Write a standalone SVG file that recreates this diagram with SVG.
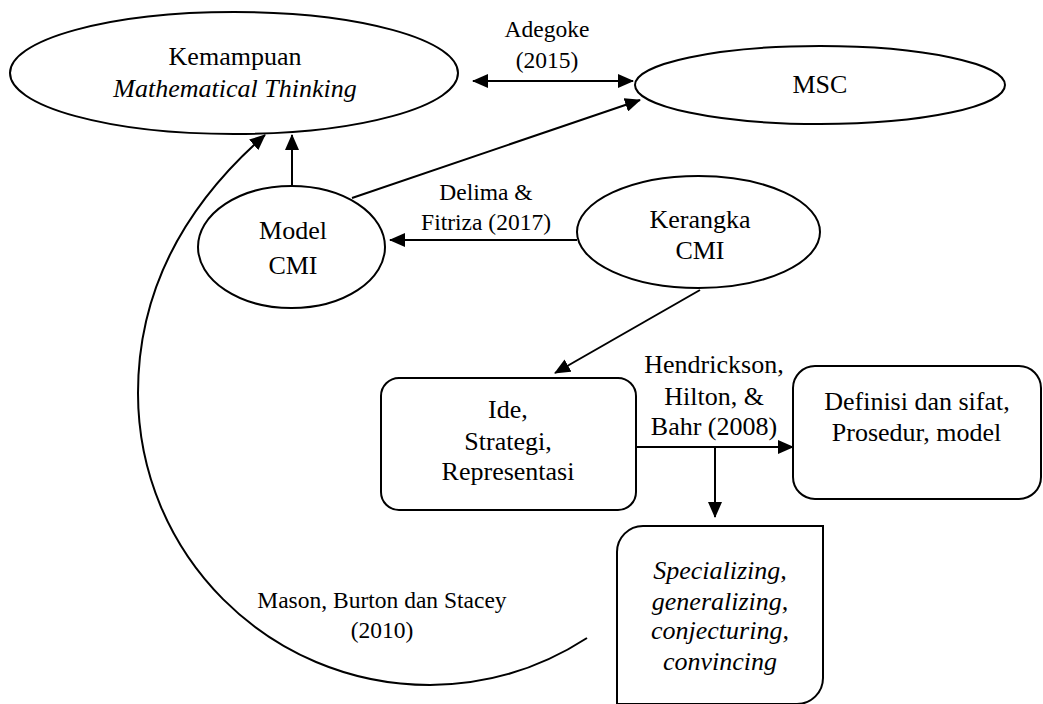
<svg xmlns="http://www.w3.org/2000/svg" width="1043" height="704" viewBox="0 0 1043 704">
<defs>
<marker id="ah" markerUnits="userSpaceOnUse" markerWidth="16" markerHeight="14" viewBox="0 0 16 14" refX="15" refY="7" orient="auto-start-reverse">
<path d="M0,0 L16,7 L0,14 z" fill="#000"/>
</marker>
</defs>
<rect width="1043" height="704" fill="#fff"/>
<g id="connectors" fill="none" stroke="#000" stroke-width="2">
<line x1="473" y1="81" x2="633" y2="81" marker-start="url(#ah)" marker-end="url(#ah)"/>
<line x1="352" y1="198" x2="640" y2="100" marker-end="url(#ah)"/>
<line x1="292" y1="186" x2="292" y2="135" marker-end="url(#ah)"/>
<line x1="577" y1="240" x2="390" y2="240" marker-end="url(#ah)"/>
<line x1="700" y1="290" x2="555" y2="373" marker-end="url(#ah)"/>
<line x1="631" y1="447" x2="793" y2="447" marker-end="url(#ah)"/>
<line x1="715" y1="447" x2="715" y2="517" marker-end="url(#ah)"/>
<path d="M587 638 A292 292 0 0 1 430 685 C268 685 138 554 138 393 C138 290 185 205 265 135" marker-end="url(#ah)"/>
</g>
<g id="labels">
<text x="504.6" y="37" font-size="23.5" font-family="Liberation Serif">Adegoke</text>
<text x="515.7" y="68" font-size="23.5" font-family="Liberation Serif">(2015)</text>
<text x="439.3" y="200" font-size="23.5" font-family="Liberation Serif">Delima &amp;</text>
<text x="421.1" y="230" font-size="23.5" font-family="Liberation Serif">Fitriza (2017)</text>
<text x="257.3" y="608" font-size="23.5" font-family="Liberation Serif">Mason, Burton dan Stacey</text>
<text x="350.7" y="638" font-size="23.5" font-family="Liberation Serif">(2010)</text>
<text x="644.3" y="373" font-size="26" font-family="Liberation Serif">Hendrickson,</text>
<text x="664.2" y="405" font-size="26" font-family="Liberation Serif">Hilton, &amp;</text>
<text x="650.8" y="435" font-size="26" font-family="Liberation Serif">Bahr (2008)</text>
</g>
<g id="kemampuan">
<ellipse cx="234" cy="73" rx="224" ry="61" fill="#fff" stroke="#000" stroke-width="2"/>
<text x="168.6" y="65" font-size="26" font-family="Liberation Serif">Kemampuan</text>
<text x="113.3" y="97" font-size="26" font-style="italic" font-family="Liberation Serif">Mathematical Thinking</text>
</g>
<g id="msc">
<ellipse cx="820" cy="85" rx="185" ry="39" fill="#fff" stroke="#000" stroke-width="2"/>
<text x="792.5" y="93" font-size="26" font-family="Liberation Serif">MSC</text>
</g>
<g id="model-cmi">
<ellipse cx="291.5" cy="247" rx="93.5" ry="61" fill="#fff" stroke="#000" stroke-width="2"/>
<text x="259.1" y="239" font-size="26" font-family="Liberation Serif">Model</text>
<text x="268.4" y="274" font-size="26" font-family="Liberation Serif">CMI</text>
</g>
<g id="kerangka-cmi">
<ellipse cx="698.5" cy="232" rx="121.5" ry="56" fill="#fff" stroke="#000" stroke-width="2"/>
<text x="649.5" y="228" font-size="26" font-family="Liberation Serif">Kerangka</text>
<text x="675.4" y="259" font-size="26" font-family="Liberation Serif">CMI</text>
</g>
<g id="ide">
<rect x="381" y="378" width="255" height="132" rx="18" fill="#fff" stroke="#000" stroke-width="2"/>
<text x="488.1" y="418" font-size="26" font-family="Liberation Serif">Ide,</text>
<text x="464.3" y="450" font-size="26" font-family="Liberation Serif">Strategi,</text>
<text x="441.6" y="480" font-size="26" font-family="Liberation Serif">Representasi</text>
</g>
<g id="definisi">
<rect x="793" y="366" width="248" height="133" rx="22" fill="#fff" stroke="#000" stroke-width="2"/>
<text x="824.2" y="410" font-size="26" font-family="Liberation Serif">Definisi dan sifat,</text>
<text x="831.8" y="441" font-size="26" font-family="Liberation Serif">Prosedur, model</text>
</g>
<g id="specializing">
<path d="M617 704 L617 552 A26 26 0 0 1 643 526 L823 526 L823 678 A26 26 0 0 1 797 704 Z" fill="#fff" stroke="#000" stroke-width="2"/>
<text x="653.2" y="579" font-size="26" font-style="italic" font-family="Liberation Serif">Specializing,</text>
<text x="651.8" y="610" font-size="26" font-style="italic" font-family="Liberation Serif">generalizing,</text>
<text x="651" y="639" font-size="26" font-style="italic" font-family="Liberation Serif">conjecturing,</text>
<text x="662.9" y="670" font-size="26" font-style="italic" font-family="Liberation Serif">convincing</text>
</g>
</svg>
